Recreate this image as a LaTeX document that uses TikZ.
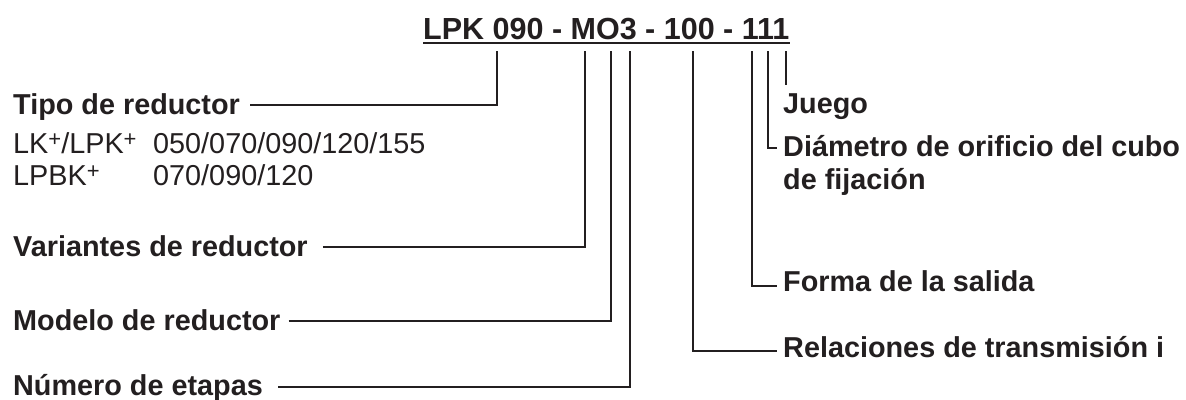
\documentclass[tikz,border=0pt]{standalone}
\usepackage{fontspec}
\setmainfont{Liberation Sans}
\usepackage{xcolor}
\usetikzlibrary{positioning}
\definecolor{ink}{HTML}{231F20}
\newcommand{\plusmark}{\raisebox{7pt}{\fontsize{22}{22}\selectfont +}}

\begin{document}
\begin{tikzpicture}[
  x=1pt, y=-1pt,
  title/.style={anchor=base west, inner sep=0pt, text=ink,
    font=\fontsize{30.5}{34}\selectfont\bfseries},
  lbl/.style={anchor=base west, inner sep=0pt, text=ink,
    font=\fontsize{28.8}{33}\selectfont\bfseries},
  info/.style={anchor=base west, inner sep=0pt, text=ink,
    font=\fontsize{28.8}{33}\selectfont},
  lead/.style={draw=ink, line width=1.9pt}
]
\useasboundingbox (0,0) rectangle (1186,399);

\node[title] (code) at (423,39) {LPK 090 - MO3 - 100 - 111};
\draw[lead] ([yshift=-4pt]code.base west) -- ([yshift=-4pt]code.base east);

% tick tops under the code
\coordinate (k1) at (497,51);
\coordinate (k2) at (585,51);
\coordinate (k3) at (611,51);
\coordinate (k4) at (630,51);
\coordinate (k5) at (693,51);
\coordinate (k6) at (752,51);
\coordinate (k7) at (768,51);
\coordinate (k8) at (786,51);

% left labels
\node[lbl] (tipo) at (13,114) {Tipo de reductor};
\node[info] (serie1) at (13,153) {LK\plusmark/LPK\plusmark};
\node[info] (size1) at (153,153) {050/070/090/120/155};
\node[info] (serie2) at (13,185) {LPBK\plusmark};
\node[info] (size2) at (153,185) {070/090/120};
\node[lbl] (variante) at (13,256) {Variantes de reductor};
\node[lbl] (modelo) at (13,330) {Modelo de reductor};
\node[lbl] (etapas) at (13,395) {Número de etapas};

% right labels
\node[lbl] (juego) at (783,113) {Juego};
\node[lbl] (diametro) at (783,156) {Diámetro de orificio del cubo};
\node[lbl] (diametro2) at (783,189) {de fijación};
\node[lbl] (forma) at (783,291) {Forma de la salida};
\node[lbl] (relacion) at (783,357) {Relaciones de transmisión i};

\draw[lead] ([xshift=10pt,yshift=9pt]tipo.base east) -| (k1);
\draw[lead] ([xshift=15pt,yshift=9pt]variante.base east) -| (k2);
\draw[lead] ([xshift=8pt,yshift=9pt]modelo.base east) -| (k3);
\draw[lead] ([xshift=15pt,yshift=8pt]etapas.base east) -| (k4);
\draw[lead] (k5) |- ([xshift=-6pt,yshift=6pt]relacion.base west);
\draw[lead] (k6) |- ([xshift=-6pt,yshift=5pt]forma.base west);
\draw[lead] (k7) |- ([xshift=-6pt,yshift=8pt]diametro.base west);
\draw[lead] (k8) -- ++(0,34);
\end{tikzpicture}
\end{document}
